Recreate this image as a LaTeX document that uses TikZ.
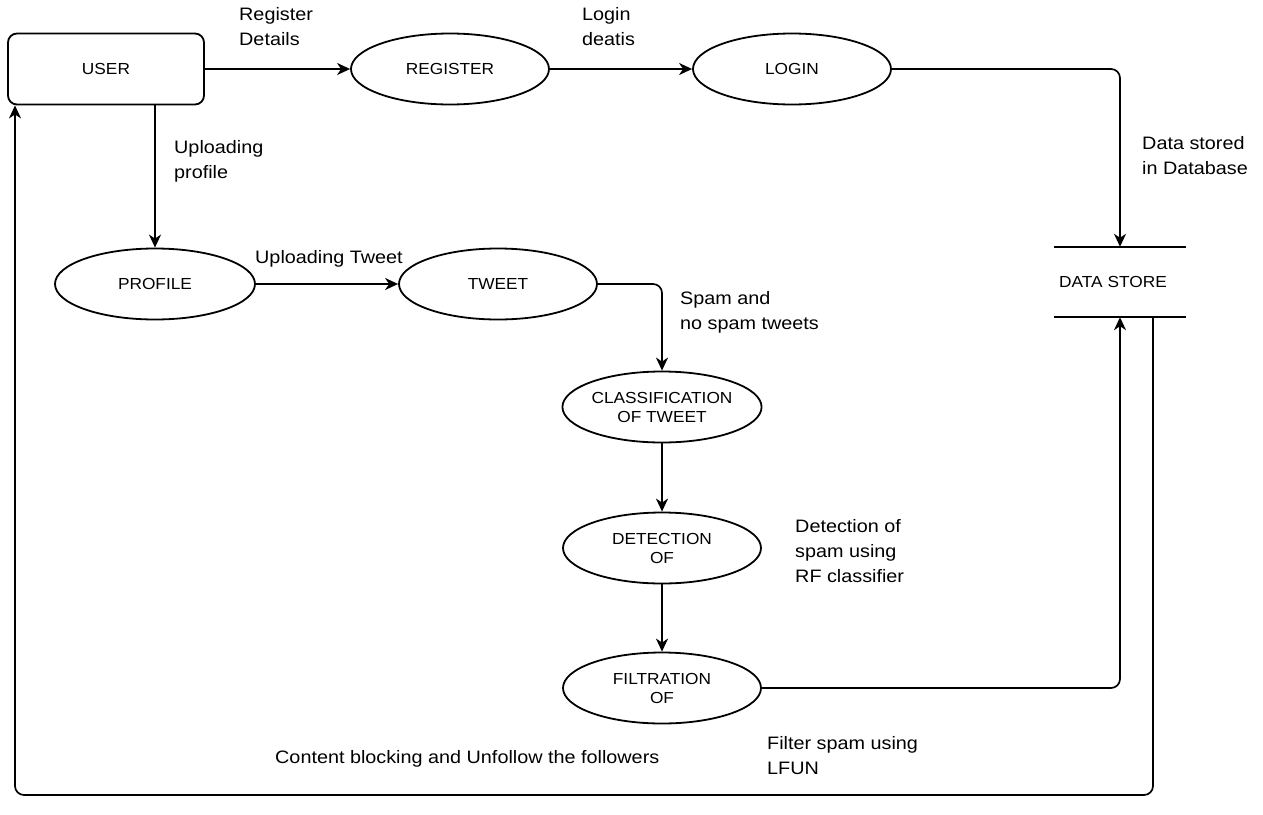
\documentclass[tikz,border=0pt]{standalone}
\usepackage{fontspec}
\setmainfont{Liberation Sans}
\newfontfamily\boxfont[FakeStretch=1.08]{Liberation Sans}
\newfontfamily\lblfont[FakeStretch=1.1]{Liberation Sans}
\usetikzlibrary{shapes.geometric,arrows.meta}
\tikzset{
  proc/.style={ellipse, draw, line width=1.8pt, minimum width=198pt, minimum height=71pt,
    inner sep=0pt, align=center, font=\boxfont\fontsize{16}{19}\selectfont},
  flow/.style={-{Stealth[length=13pt,width=12pt,inset=4pt]}, line width=1.7pt, rounded corners=9pt},
  lbl/.style={anchor=north west, inner sep=0pt, align=left, font=\lblfont\fontsize{18}{25}\selectfont}
}
\begin{document}
\begin{tikzpicture}[x=1pt,y=-1pt]
  \useasboundingbox (0,0) rectangle (1263,814);
  % entities and processes
  \node[draw, rounded corners=9pt, line width=1.8pt, minimum width=196pt, minimum height=71pt,
    font=\boxfont\fontsize{16}{19}\selectfont] (user) at (106,69) {USER};
  \node[proc] (reg) at (450,69) {REGISTER};
  \node[proc] (login) at (792,69) {LOGIN};
  \node[proc, minimum width=200pt] (prof) at (155,284) {PROFILE};
  \node[proc] (tweet) at (498,284) {TWEET};
  \node[proc] (cls) at (662,407) {CLASSIFICATION\\OF TWEET};
  \node[proc] (det) at (662,548) {DETECTION\\OF};
  \node[proc] (fil) at (662,688) {FILTRATION\\OF};
  \node[minimum width=132pt, minimum height=70pt, inner sep=0pt,
    font=\boxfont\fontsize{16}{19}\selectfont] (ds) at (1120,282) {DATA STORE\hspace*{14pt}};
  \draw[line width=1.8pt] (ds.north west) -- (ds.north east);
  \draw[line width=1.8pt] (ds.south west) -- (ds.south east);
  \coordinate (back) at (15,795);

  % flows
  \draw[flow] (user.east) -- (reg.west);
  \draw[flow] (reg) -- (login);
  \draw[flow] (login.east) -| (ds.north);
  \draw[flow] (prof.north |- user.south) -- (prof.north);
  \draw[flow] (prof) -- (tweet);
  \draw[flow] (tweet.east) -| (cls.north);
  \draw[flow] (cls) -- (det);
  \draw[flow] (det) -- (fil);
  \draw[flow] (fil.east) -| (ds.south);
  \draw[flow] ([xshift=33pt]ds.south) |- (back) -- (back |- user.south);

  % labels
  \node[lbl] (l1) at (239,7) {Register\\Details};
  \node[lbl] (l2) at (582,7) {Login\\deatis};
  \node[lbl] (l3) at (1142,136) {Data stored\\in Database};
  \node[lbl] (l4) at (174,140) {Uploading\\profile};
  \node[lbl] (l5) at (255,250) {Uploading Tweet};
  \node[lbl] (l6) at (680,291) {Spam and\\no spam tweets};
  \node[lbl] (l7) at (795,519) {Detection of\\spam using\\RF classifier};
  \node[lbl] (l8) at (767,736) {Filter spam using\\LFUN};
  \node[lbl] (l9) at (275,750) {Content blocking and Unfollow the followers};
\end{tikzpicture}
\end{document}
